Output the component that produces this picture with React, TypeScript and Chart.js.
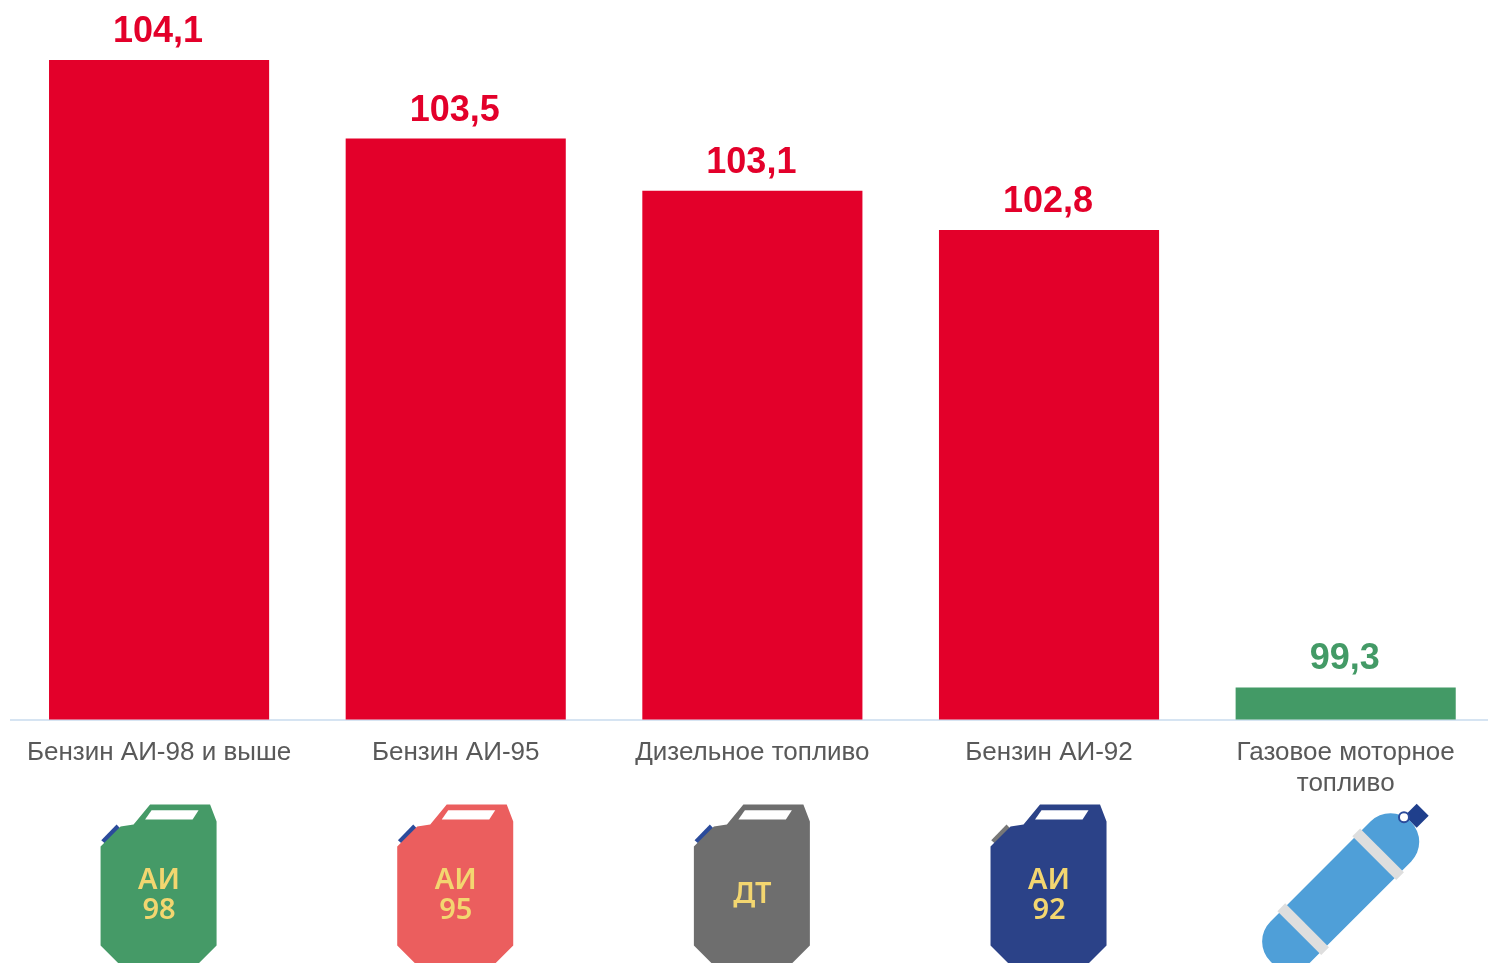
import React, { useEffect, useRef } from "react";
import { Chart, registerables } from "chart.js";

Chart.register(...registerables);

const categories: (string | string[])[] = [
  "Бензин АИ-98 и выше",
  "Бензин АИ-95",
  "Дизельное топливо",
  "Бензин АИ-92",
  ["Газовое моторное", "топливо"],
];
const values = [104.1, 103.5, 103.1, 102.8, 99.3];
const valueLabels = ["104,1", "103,5", "103,1", "102,8", "99,3"];
const barColors = ["#E3002A", "#E3002A", "#E3002A", "#E3002A", "#439A66"];
const labelColors = ["#E3002A", "#E3002A", "#E3002A", "#E3002A", "#439A66"];
const canBodies = ["#459A67", "#EB5E5E", "#6E6E6E", "#2B4288"];
const canCaps = ["#2B4B9B", "#2B4B9B", "#2B4B9B", "#777777"];
const canTexts = [["АИ", "98"], ["АИ", "95"], ["ДТ"], ["АИ", "92"]];

const FONT = '"Liberation Sans", Arial, sans-serif';

function poly(ctx: CanvasRenderingContext2D, pts: number[][], x: number, y: number) {
  ctx.beginPath();
  pts.forEach((p, i) => (i ? ctx.lineTo(x + p[0], y + p[1]) : ctx.moveTo(x + p[0], y + p[1])));
  ctx.closePath();
  ctx.fill();
}

function drawCan(ctx: CanvasRenderingContext2D, cx: number, body: string, cap: string, text: string[]) {
  const x = cx - 58.5;
  const y = 804.5;
  ctx.fillStyle = cap;
  poly(ctx, [[0.7, 35.7], [16, 20], [20.7, 25], [5.3, 39.7]], x, y);
  ctx.fillStyle = body;
  poly(ctx, [[0, 42], [20, 22], [33, 20], [49.5, 0], [109.5, 0], [116, 17], [116, 141], [95, 162], [21, 162], [0, 141]], x, y);
  ctx.fillStyle = "#FFFFFF";
  poly(ctx, [[44.5, 15], [51, 5.7], [98, 5.7], [92, 15]], x, y);
  ctx.fillStyle = "#F3D670";
  ctx.textAlign = "center";
  ctx.textBaseline = "middle";
  ctx.font = '600 29px "Noto Sans", sans-serif';
  if (text.length === 2) {
    ctx.fillText(text[0], x + 58.5, 881);
    ctx.fillText(text[1], x + 58.5, 911);
  } else {
    ctx.fillText(text[0], x + 58.5, 895);
  }
}

function drawCylinder(ctx: CanvasRenderingContext2D, cx: number) {
  ctx.save();
  ctx.translate(cx - 5, 891.7);
  ctx.rotate(-Math.PI / 4);
  ctx.fillStyle = "#1F3F8C";
  ctx.fillRect(99, -8.5, 17, 17);
  ctx.fillStyle = "#4F9FD8";
  ctx.beginPath();
  ctx.roundRect(-99, -28.5, 198, 57, 28);
  ctx.fill();
  ctx.fillStyle = "#DEDEDE";
  ctx.fillRect(47.5, -31, 11, 62);
  ctx.fillRect(-58.5, -31, 11, 62);
  ctx.restore();
  ctx.beginPath();
  ctx.arc(cx + 58.3, 817.3, 5, 0, Math.PI * 2);
  ctx.fillStyle = "#FFFFFF";
  ctx.fill();
  ctx.lineWidth = 2;
  ctx.strokeStyle = "#2B4B9B";
  ctx.stroke();
}

const annotate = {
  id: "annotate",
  afterDatasetsDraw(chart: any) {
    const { ctx } = chart;
    const meta = chart.getDatasetMeta(0);
    ctx.save();
    meta.data.forEach((bar: any, i: number) => {
      ctx.fillStyle = labelColors[i];
      ctx.font = `bold 36px ${FONT}`;
      ctx.textAlign = "center";
      ctx.textBaseline = "alphabetic";
      ctx.fillText(valueLabels[i], bar.x - 1, bar.y - 18);
      if (i < canBodies.length) drawCan(ctx, bar.x, canBodies[i], canCaps[i], canTexts[i]);
      else drawCylinder(ctx, bar.x);
    });
    ctx.restore();
  },
};

export default function App() {
  const ref = useRef<HTMLCanvasElement>(null);
  useEffect(() => {
    const chart = new Chart(ref.current!, {
      type: "bar",
      data: {
        labels: categories,
        datasets: [
          {
            data: values,
            backgroundColor: barColors,
            categoryPercentage: 1,
            barPercentage: 220 / 296.5,
          },
        ],
      },
      plugins: [annotate],
      options: {
        animation: false,
        responsive: false,
        layout: { padding: { left: 10.75, right: 0, top: 0, bottom: 0 } },
        plugins: { legend: { display: false }, tooltip: { enabled: false } },
        scales: {
          y: { display: false, min: 99.055, max: 104.56 },
          x: {
            afterFit: (s: any) => {
              s.height = 243.5;
            },
            grid: { display: false, drawTicks: false },
            border: { display: true, color: "#D6E4F2", width: 2 },
            ticks: {
              autoSkip: false,
              maxRotation: 0,
              minRotation: 0,
              padding: 18,
              color: "#595959",
              font: { family: FONT, size: 26 },
            },
          },
        },
      },
    } as any);
    return () => chart.destroy();
  }, []);
  return (
    <div style={{ position: "fixed", left: 0, top: 0, width: 1488, height: 963, overflow: "hidden", background: "#fff" }}>
      <canvas ref={ref} width={1494} height={963} style={{ display: "block" }} />
    </div>
  );
}
